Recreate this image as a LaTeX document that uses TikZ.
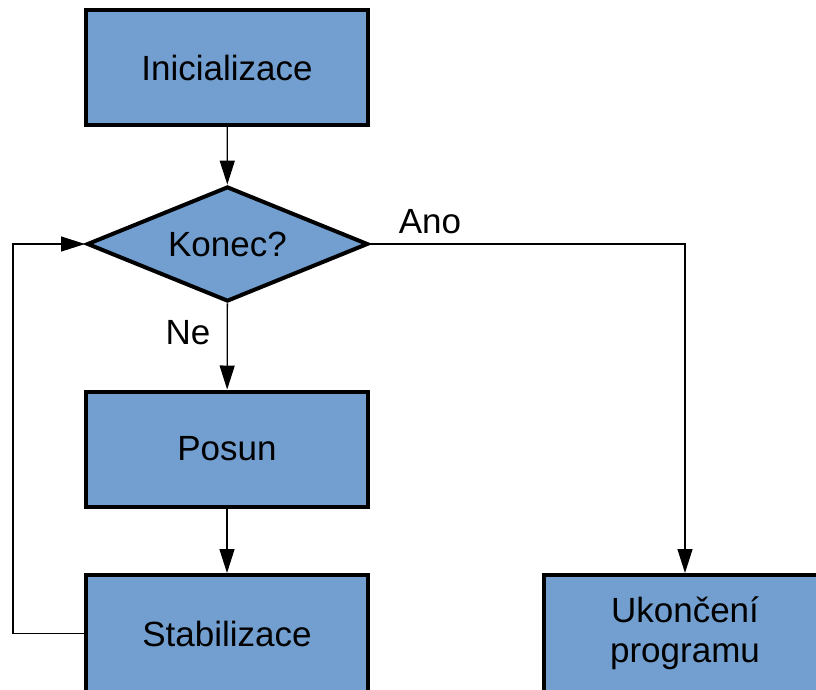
\documentclass[tikz,border=0pt]{standalone}
\usepackage{fontspec}
\setmainfont{Liberation Sans}
\usetikzlibrary{shapes.geometric, arrows.meta, positioning}
\definecolor{BoxBlau}{HTML}{729FCF}

\begin{document}
\begin{tikzpicture}[x=1pt, y=-1pt,
    box/.style={shape=rectangle, draw=black, line width=4pt, fill=BoxBlau, minimum width=282pt, minimum height=115pt, inner sep=0pt, font=\fontsize{35}{40}\selectfont, align=center},
    decision/.style={shape=diamond, draw=black, line width=4pt, fill=BoxBlau, minimum width=281pt, minimum height=115pt, aspect=2.4, inner sep=0pt, font=\fontsize{35}{40}\selectfont},
    link/.style={line width=1.3pt, -{Triangle[width=15pt,length=24pt]}},
    lbl/.style={font=\fontsize{35}{40}\selectfont}]
    \useasboundingbox (0,0) rectangle (816,689);
    \clip (0,0) rectangle (816,689);
    \node[box]      (init)   at (227, 67.5)  {Inicializace};
    \node[decision] (konec)  at (227.5, 244) {Konec?};
    \node[box]      (posun)  at (227, 449)   {Posun};
    \node[box, minimum height=117pt] (stabil) at (227, 633.5) {Stabilizace};
    \node[box, minimum height=117pt] (ende)   at (685, 633.5) {Ukončení\\programu};
    \coordinate (back) at (13, 633.5);
    \node[lbl] (ne)  at (188, 333)   {Ne};
    \node[lbl] (ano) at (430, 221.5) {Ano};
    \draw[link] (init) -- (konec);
    \draw[link] (konec) -- (posun);
    \draw[link] (posun) -- (stabil);
    \draw[link] (stabil.west) -- (back) |- (konec.west);
    \draw[link] (konec.east) -| (ende.north);
\end{tikzpicture}
\end{document}
